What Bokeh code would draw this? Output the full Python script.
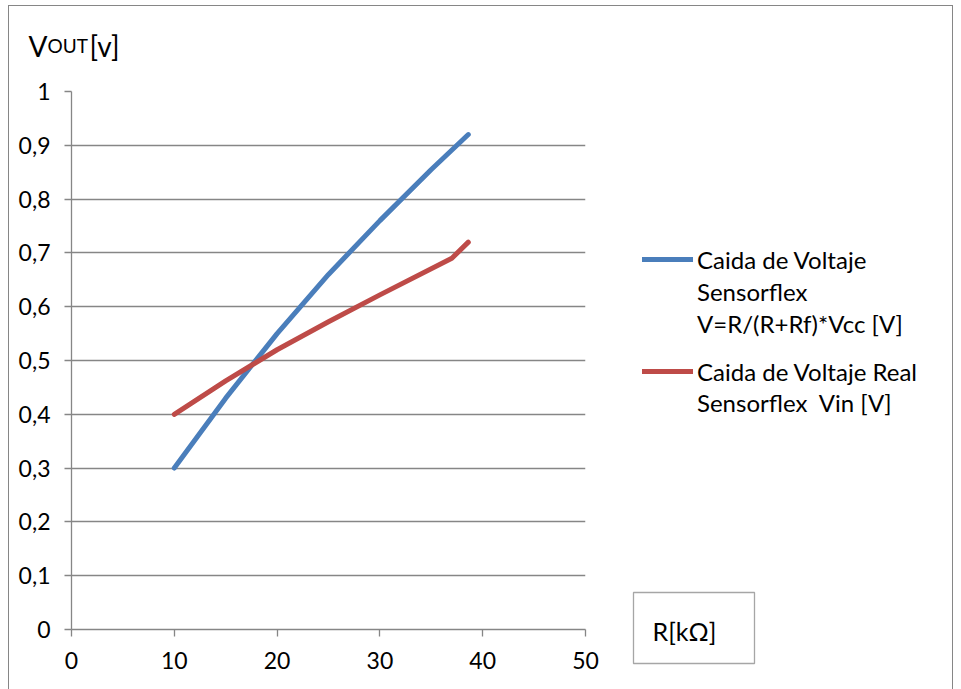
import numpy as np
from bokeh.plotting import figure
from bokeh.models import Range1d, FixedTicker, Legend, LegendItem
from bokeh.core.properties import value
from bokeh.embed import file_html
from bokeh.resources import INLINE

# ---- data ----
r_blue = [10, 15, 20, 25, 30, 35, 38.6]
v_blue = [0.30, 0.43, 0.55, 0.66, 0.76, 0.855, 0.92]
r_red = [10, 15, 20, 25, 30, 37, 38.6]
v_red = [0.40, 0.462, 0.52, 0.572, 0.622, 0.69, 0.72]

x_ticks = [0, 10, 20, 30, 40, 50]
y_ticks = [0, 0.1, 0.2, 0.3, 0.4, 0.5, 0.6, 0.7, 0.8, 0.9, 1]
y_tick_labels = ["0", "0,1", "0,2", "0,3", "0,4", "0,5", "0,6", "0,7", "0,8", "0,9", "1"]

legend1_lines = ["Caida de Voltaje", "Sensorflex", "V=R/(R+Rf)*Vcc [V]"]
legend2_lines = ["Caida de Voltaje Real", "Sensorflex  Vin [V]"]
y_title_parts = ["V", "OUT", "[v]"]
x_title = "R[kΩ]"

FONT = "Lato"
GRAY = "#868686"
BLUE = "#4A7EBB"
RED = "#BE4B48"

W, H = 961, 689
FL, FR, FT, FB = 71, 585, 91, 629  # plot-area edges in page px

# ---------------- main chart ----------------
p1 = figure(width=W, height=H, output_backend="svg", toolbar_location=None,
            x_range=Range1d(0, 50), y_range=Range1d(0, 1),
            min_border_left=FL, min_border_right=W - FR,
            min_border_top=FT, min_border_bottom=H - FB)
p1.title.visible = False
p1.outline_line_alpha = 0
p1.background_fill_color = "white"
p1.border_fill_color = "white"
# outer chart border (CSS pseudo element, does not affect layout)
p1.stylesheets = [":host::after { content: ''; position: absolute; left: 8px; top: 5px; "
                  "width: 943px; height: 684px; border: 1px solid #868686; border-bottom: none; "
                  "pointer-events: none; box-sizing: content-box; }"]

for ax in (p1.xaxis[0], p1.yaxis[0]):
    ax.axis_line_color = GRAY
    ax.axis_line_width = 1.3
    ax.major_tick_line_color = GRAY
    ax.major_tick_line_width = 1.3
    ax.minor_tick_line_color = None
    ax.major_tick_in = 0
    ax.major_tick_out = 7
    ax.major_label_text_font = FONT
    ax.major_label_text_font_size = "23px"
    ax.major_label_text_color = "black"
p1.xaxis.ticker = FixedTicker(ticks=x_ticks)
p1.yaxis.ticker = FixedTicker(ticks=y_ticks)
p1.yaxis.major_label_overrides = {t: l for t, l in zip(y_ticks, y_tick_labels)}
p1.yaxis.major_label_standoff = 14
p1.xaxis.major_label_standoff = 15

p1.xgrid.grid_line_color = None
p1.ygrid.grid_line_color = GRAY
p1.ygrid.grid_line_width = 1.3

p1.line(r_blue, v_blue, line_color=BLUE, line_width=5, line_cap="round", line_join="round")
p1.line(r_red, v_red, line_color=RED, line_width=5, line_cap="round", line_join="round")

# ------- transparent overlay (separate root, page-pixel coordinates) for texts outside the plot area -------
p2 = figure(width=W, height=H, output_backend="svg", toolbar_location=None,
            x_range=Range1d(0, W), y_range=Range1d(H, 0),
            x_axis_type=None, y_axis_type=None,
            min_border_left=0, min_border_right=0, min_border_top=0, min_border_bottom=0)
p2.title.visible = False
p2.outline_line_alpha = 0
p2.background_fill_alpha = 0
p2.border_fill_alpha = 0
p2.grid.visible = False
p2.styles = {"position": "absolute", "left": "0px", "top": "0px", "background": "transparent"}

# y-axis title "VOUT[v]" (OUT in small caps), baseline at y=45
for txt, x0, size in zip(y_title_parts, [28, 47, 89], ["28px", "19px", "28px"]):
    p2.text(x=[x0], y=[45], text=[txt], text_font=value(FONT), text_font_size=size,
            text_baseline="alphabetic", text_align="left", text_color="black")

# x-axis title box
p2.quad(left=[633], right=[754], top=[592], bottom=[663], fill_color="white",
        line_color="#A6A6A6", line_width=1.3)
p2.text(x=[652], y=[630], text=[x_title], text_font=value(FONT), text_font_size="25px",
        text_baseline="alphabetic", text_align="left", text_color="black")

# legend (proxy line samples with the series' styles; NaN data so nothing is drawn in the plot)
nan = [np.nan]
lb = p2.line(x=nan, y=nan, line_color=BLUE, line_width=5, line_cap="round")
lr = p2.line(x=nan, y=nan, line_color=RED, line_width=5, line_cap="round")
lx = p2.line(x=nan, y=nan, line_alpha=0)

common = dict(margin=0, padding=0, border_line_alpha=0, background_fill_alpha=0,
              glyph_width=51, glyph_height=30, label_height=30, label_standoff=4,
              label_text_font=FONT, label_text_font_size="24px", label_text_color="black")
lg1 = Legend(items=[LegendItem(label=legend1_lines[0], renderers=[lb]),
                    LegendItem(label=legend1_lines[1], renderers=[lx]),
                    LegendItem(label=legend1_lines[2], renderers=[lx])],
             location=(642, H - 244 - 94), spacing=2, **common)
lg2 = Legend(items=[LegendItem(label=legend2_lines[0], renderers=[lr]),
                    LegendItem(label=legend2_lines[1], renderers=[lx])],
             location=(642, H - 356 - 61), spacing=1, **common)
p2.add_layout(lg1)
p2.add_layout(lg2)

p = [p1, p2]
open("out.html", "w").write(file_html(p, INLINE))
